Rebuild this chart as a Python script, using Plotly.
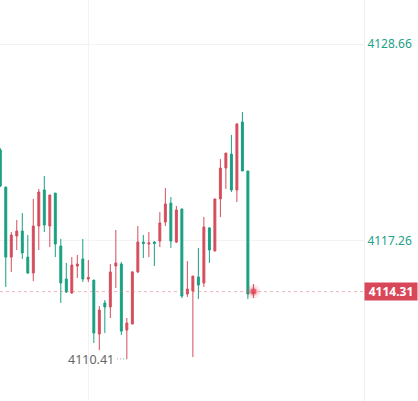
import plotly.graph_objects as go

# candle index, open / high / low / close (red = up, green = down)
idx = list(range(47))
opens = [4122.52, 4120.37, 4116.31, 4117.53, 4117.82, 4116.31, 4115.39, 4118.11, 4120.20, 4118.11,
         4120.02, 4116.95, 4115.04, 4114.23, 4115.79, 4116.20, 4115.04, 4114.98, 4111.85, 4113.65,
         4113.42, 4115.79, 4115.91, 4112.08, 4112.43, 4115.45, 4117.18, 4117.07, 4117.18, 4117.24,
         4118.34, 4119.44, 4117.18, 4119.10, 4114.17, 4114.34, 4115.16, 4114.81, 4118.00, 4116.66,
         4119.68, 4121.47, 4122.28, 4120.20, 4124.14, 4121.30, 4114.23]
highs = [4122.63, 4120.37, 4117.76, 4118.46, 4118.86, 4117.59, 4119.68, 4120.26, 4121.01, 4119.91,
         4120.02, 4117.36, 4115.97, 4116.31, 4116.43, 4117.36, 4116.14, 4114.98, 4113.47, 4113.82,
         4115.91, 4117.88, 4116.02, 4112.78, 4115.50, 4118.11, 4117.59, 4117.76, 4117.24, 4118.92,
         4120.31, 4119.79, 4119.27, 4119.10, 4116.08, 4115.21, 4116.84, 4118.63, 4118.05, 4119.68,
         4121.99, 4122.34, 4123.39, 4124.08, 4124.72, 4121.30, 4114.75]
lows = [4120.37, 4114.58, 4115.45, 4116.72, 4116.20, 4115.33, 4114.92, 4116.72, 4117.76, 4116.89,
        4116.31, 4113.65, 4114.23, 4114.17, 4115.10, 4114.87, 4114.87, 4111.33, 4110.92, 4111.91,
        4112.78, 4114.52, 4111.79, 4110.41, 4112.43, 4115.39, 4116.26, 4116.31, 4115.79, 4116.89,
        4118.11, 4116.84, 4117.13, 4113.94, 4114.00, 4110.52, 4113.88, 4114.58, 4115.97, 4116.66,
        4118.63, 4120.26, 4120.08, 4119.50, 4121.30, 4113.88, 4113.94]
closes = [4120.43, 4116.31, 4117.59, 4117.82, 4116.55, 4115.39, 4118.11, 4120.08, 4118.17, 4119.91,
          4117.07, 4114.81, 4114.29, 4115.85, 4115.91, 4115.04, 4115.13, 4111.91, 4113.24, 4113.42,
          4115.45, 4115.97, 4112.02, 4112.49, 4115.45, 4117.18, 4117.10, 4117.13, 4117.10, 4118.29,
          4119.39, 4117.24, 4119.04, 4114.05, 4114.46, 4115.21, 4114.69, 4118.05, 4116.72, 4119.68,
          4121.47, 4122.34, 4120.20, 4124.02, 4121.30, 4114.17, 4114.31]

axis_ticks = [4117.26, 4128.66]
last_price = 4114.31
low_price = 4110.41
low_idx = 23

RED = "#d44d5c"
GREEN = "#18a081"

fig = go.Figure()

fig.add_trace(
    go.Candlestick(
        x=idx,
        open=opens,
        high=highs,
        low=lows,
        close=closes,
        increasing=dict(line=dict(color=RED, width=1), fillcolor=RED),
        decreasing=dict(line=dict(color=GREEN, width=1), fillcolor=GREEN),
        hoverinfo="skip",
        showlegend=False,
    )
)

# glowing dot on the latest price
fig.add_trace(
    go.Scatter(
        x=[idx[-1]] * 3,
        y=[last_price] * 3,
        mode="markers",
        marker=dict(
            size=[14, 9, 6],
            color=["rgba(226,60,80,0.15)", "rgba(226,60,80,0.35)", "#e23a50"],
            line=dict(width=0),
        ),
        hoverinfo="skip",
        showlegend=False,
    )
)

# dotted line of the latest price
fig.add_shape(
    type="line", xref="paper", x0=0, x1=1, y0=last_price, y1=last_price,
    line=dict(color="rgba(222,110,122,0.5)", width=1, dash="3px,3px"),
)

# low marker
fig.add_shape(
    type="line", x0=low_idx - 1.8, x1=low_idx, y0=low_price, y1=low_price,
    line=dict(color="#999999", width=1, dash="1px,2px"),
)
fig.add_annotation(
    x=low_idx - 1.9, y=low_price, text=f"{low_price:.2f}", showarrow=False,
    xanchor="right", yanchor="middle", yshift=-1,
    font=dict(color="#666666", size=12.5),
)

# current price tag on the axis
fig.add_annotation(
    xref="paper", x=1, y=last_price, text=f"<b>{last_price:.2f}</b>", showarrow=False,
    xanchor="left", yanchor="middle", width=52, height=17, borderpad=0,
    bgcolor="#d9485a", font=dict(color="white", size=12),
)

fig.update_layout(
    width=418,
    height=401,
    margin=dict(l=0, r=54, t=0, b=0),
    paper_bgcolor="white",
    plot_bgcolor="white",
    font=dict(family="Noto Sans, Open Sans, sans-serif"),
    boxgap=0.5,
    xaxis=dict(
        range=[-0.05, 66.1],
        tickvals=[16],
        showticklabels=False,
        showgrid=True,
        gridcolor="#f3f3f3",
        zeroline=False,
        rangeslider=dict(visible=False),
        fixedrange=True,
    ),
    yaxis=dict(
        side="right",
        range=[4107.97, 4131.21],
        tickvals=axis_ticks,
        ticktext=[f"{v:.2f}" for v in axis_ticks],
        tickfont=dict(color="#23a088", size=12),
        showgrid=True,
        gridcolor="#f3f3f3",
        showline=True,
        linecolor="#efefef",
        zeroline=False,
        ticks="",
        fixedrange=True,
    ),
)

fig.write_html(
    "out.html",
    config={"displayModeBar": False},
    post_script="document.body.style.margin = '0';",
)
